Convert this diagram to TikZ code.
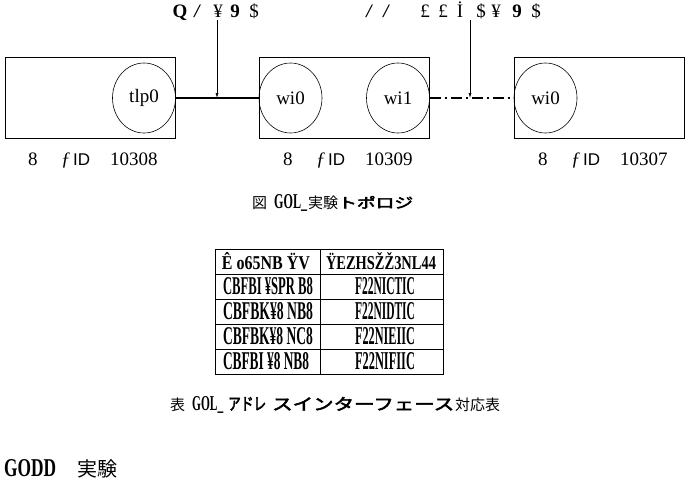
\documentclass[tikz,border=0pt]{standalone}
\usepackage{fontspec}
\usetikzlibrary{arrows.meta,shapes.geometric}
\setmainfont{Liberation Serif}
\newfontfamily\cjk{Noto Sans CJK JP}
\newfontfamily\cjkb[FakeBold=3]{Noto Sans CJK JP}
\newfontfamily\gsans{Liberation Sans}
\newcommand{\fitbox}[3]{\resizebox{#1}{#2}{\bfseries #3}}
\begin{document}
\begin{tikzpicture}[x=1pt,y=-1pt,
  hostbox/.style={draw,line width=0.6pt,minimum width=170pt,minimum height=81pt,inner sep=0pt},
  iface/.style={draw,line width=0.6pt,ellipse,minimum width=63pt,minimum height=70pt,inner sep=0pt},
  ifname/.style={font=\fontsize{19}{20}\selectfont,inner sep=0pt},
  lbl/.style={font=\fontsize{19}{20}\selectfont,inner sep=0pt,anchor=base west},
  toplbl/.style={font=\fontsize{19}{20}\selectfont,inner sep=0pt,anchor=base},
  captext/.style={font=\fontsize{15}{18}\selectfont,inner sep=0pt,anchor=base west},
  cell/.style={inner sep=0pt}]
\useasboundingbox (0,0) rectangle (685,498);
% hosts
\node[hostbox] (h1) at (90,97.5) {};
\node[hostbox] (h2) at (344.5,97.5) {};
\node[hostbox] (h3) at (599.5,97.5) {};
\node[iface] (tlp) at (144,98) {};
\node[ifname] at (tlp) {tlp0};
\node[iface] (wa) at (290.5,98) {};
\node[ifname] at (wa) {wi0};
\node[iface] (wb) at (398,98) {};
\node[ifname] at (wb) {wi1};
\node[iface] (wc) at (545.5,98) {};
\node[ifname] at (wc) {wi0};
% links
\draw[line width=1.6pt] (tlp.east) -- (wa.west);
\draw[line width=1.6pt,dash pattern=on 11pt off 4pt on 2pt off 4pt] (wb.east) -- (wc.west);
% top labels
\node[toplbl] (q1) at (180,17) {\bfseries Q};
\node[toplbl] (q2) at (197,17) {\itshape\bfseries /};
\node[toplbl] (q3) at (218,17) {¥};
\node[toplbl] (q4) at (235,17) {\bfseries 9};
\node[toplbl] (q5) at (254,17) {\$};
\node[toplbl] (p1) at (369,17) {\itshape\bfseries /};
\node[toplbl] (p2) at (386,17) {\itshape\bfseries /};
\node[toplbl] (p3) at (425,17) {£};
\node[toplbl] (p4) at (443,17) {£};
\node[toplbl] (p5) at (460,17) {İ};
\node[toplbl] (p6) at (481,17) {\$};
\node[toplbl] (p7) at (496,17) {¥};
\node[toplbl] (p8) at (517,17) {\bfseries 9};
\node[toplbl] (p9) at (536,17) {\$};
% arrows
\coordinate (a1) at (217,98);
\coordinate (a2) at (470,98);
\coordinate (s1) at (217,20);
\coordinate (s2) at (470,20);
\draw[-{Latex[length=5pt,width=3pt]},line width=0.6pt] (s1) -- (a1);
\draw[-{Latex[length=5pt,width=3pt]},line width=0.6pt] (s2) -- (a2);
% host labels
\foreach \dx/\num [count=\i] in {0/10308,255/10309,510/10307}{
  \node[lbl] (e\i) at (28+\dx,165) {8};
  \node[lbl] (f\i) at (61+\dx,165) {\textit{ƒ}};
  \node[lbl] (d\i) at (73+\dx,165) {\gsans\fontsize{17}{20}\selectfont ID};
  \node[lbl] (n\i) at (110+\dx,165) {\num};
}
% caption 1
\node[captext] (c1a) at (252,208) {\cjk 図};
\node[captext] (c1b) at (274,208) {\fitbox{33pt}{14pt}{GOL\_}};
\node[captext] (c1c) at (308,208) {\cjk 実験};
\node[captext] (c1d) at (338,208) {\resizebox{75pt}{12pt}{\cjkb トポロジ}};
% table
\draw[line width=0.6pt] (215,249) rectangle (443,374);
\foreach \yy in {274,299,324,349} \draw[line width=0.6pt] (215,\yy) -- (443,\yy);
\draw[line width=0.6pt] (320,249) -- (320,374);
\node[cell] (r0a) at (266,261.5) {\fitbox{88pt}{17pt}{Ê o65NB ŸV}};
\node[cell] (r0b) at (381,261.5) {\fitbox{110pt}{17pt}{ŸEZHSŽŽ3NL44}};
\node[cell] (r1a) at (268,286.5) {\fitbox{90pt}{17pt}{CBFBI ¥SPR B8}};
\node[cell] (r1b) at (385,286.5) {\fitbox{60pt}{17pt}{F22NICTIC}};
\node[cell] (r2a) at (268,311.5) {\fitbox{90pt}{17pt}{CBFBK¥8 NB8}};
\node[cell] (r2b) at (385,311.5) {\fitbox{60pt}{17pt}{F22NIDTIC}};
\node[cell] (r3a) at (268,336.5) {\fitbox{90pt}{17pt}{CBFBK¥8 NC8}};
\node[cell] (r3b) at (385,336.5) {\fitbox{60pt}{17pt}{F22NIEIIC}};
\node[cell] (r4a) at (266,361.5) {\fitbox{86pt}{17pt}{CBFBI ¥8 NB8}};
\node[cell] (r4b) at (385,361.5) {\fitbox{60pt}{17pt}{F22NIFIIC}};
% caption 2
\node[captext] (c2a) at (170,410) {\cjk 表};
\node[captext] (c2b) at (192,410) {\fitbox{31pt}{14pt}{GOL\_}};
\node[captext] (c2c) at (228,410) {\resizebox{38pt}{13pt}{\cjkb アドレ}};
\node[captext] (c2d) at (272,410) {\resizebox{182pt}{13pt}{\cjkb スインターフェース}};
\node[captext] (c2e) at (455,410) {\cjk 対応表};
% section heading
\node[captext] (s1a) at (4,476) {\fitbox{52pt}{17pt}{GODD}};
\node[captext,font=\fontsize{20}{22}\selectfont] (s1b) at (77,476) {\cjk 実験};
\end{tikzpicture}
\end{document}
